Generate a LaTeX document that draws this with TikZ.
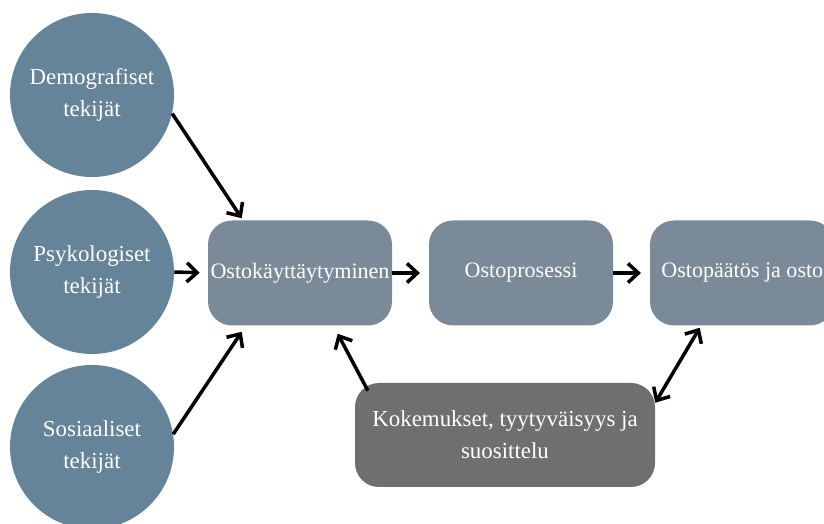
\documentclass[tikz,border=0pt]{standalone}
\usepackage{fontspec}
\setmainfont{Liberation Serif}
\usetikzlibrary{arrows.meta}
\definecolor{circblue}{RGB}{102,132,153}
\definecolor{boxblue}{RGB}{122,138,153}
\definecolor{boxgray}{RGB}{111,111,111}

\begin{document}
\begin{tikzpicture}[
  factor/.style={circle, fill=circblue, minimum size=4.1cm, inner sep=0pt, text=white, align=center, font=\fontsize{16.3}{22.8}\selectfont},
  stage/.style={rounded corners=0.6cm, fill=boxblue, minimum width=4.6cm, minimum height=2.625cm, inner sep=1pt, text=white, font=\fontsize{15.7}{22.8}\selectfont},
  link/.style={-{Straight Barb[length=2.6mm,width=4.8mm]}, line width=2.5pt},
  bothlink/.style={{Straight Barb[length=2.6mm,width=4.8mm]}-{Straight Barb[length=2.6mm,width=4.8mm]}, line width=2.5pt}
]
\useasboundingbox (0,0) rectangle (20.6,13.1);
% factors
\node[factor] (demo) at (2.3,10.725) {Demografiset\\tekijät};
\node[factor] (psych) at (2.3,6.3) {Psykologiset\\tekijät};
\node[factor] (social) at (2.3,1.925) {Sosiaaliset\\tekijät};
% stages
\node[stage] (behav) at (7.5,6.275) {Ostokäyttäytyminen};
\node[stage] (proc) at (13.025,6.275) {Ostoprosessi};
\node[stage] (dec) at (18.55,6.275) {};
\node[anchor=west, inner sep=1pt, text=white, font=\fontsize{15.7}{22.8}\selectfont] (dectext) at ([xshift=0.25cm]dec.west) {Ostopäätös ja osto};
\node[stage, fill=boxgray, minimum width=7.5cm, minimum height=2.6cm, align=center, font=\fontsize{16.3}{22.8}\selectfont] (exp) at (12.625,2.225) {Kokemukset, tyytyväisyys ja\\suosittelu};
% arrows
\draw[link] (demo.-13) -- ([xshift=0.85cm,yshift=0.05cm]behav.north west);
\draw[link, shorten >=0.2cm] (psych.east) -- (behav.west);
\draw[link] (social.9) -- ([xshift=0.85cm,yshift=-0.15cm]behav.south west);
\draw[link, shorten >=0.22cm] (behav.east) -- (proc.west);
\draw[link, shorten >=0.22cm] (proc.east) -- (dec.west);
\draw[link] ([xshift=0.33cm,yshift=-0.2cm]exp.north west) -- ([xshift=3.25cm,yshift=-0.2cm]behav.south west);
\draw[bothlink] ([yshift=-0.5cm]exp.north east) -- ([xshift=1.25cm,yshift=-0.05cm]dec.south west);
\end{tikzpicture}
\end{document}
